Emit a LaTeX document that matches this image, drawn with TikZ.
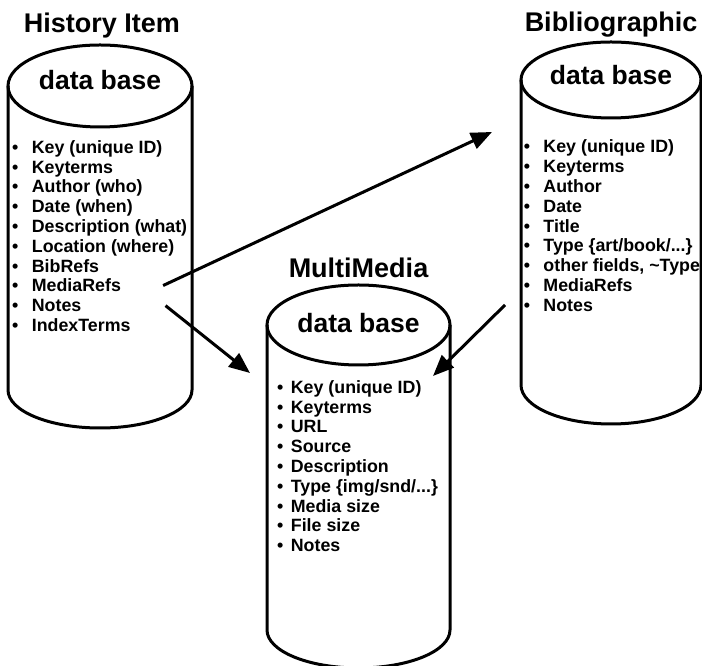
\documentclass[tikz,border=0pt]{standalone}
\usepackage{fontspec}
\setmainfont{Liberation Sans}
\usetikzlibrary{arrows.meta}

\tikzset{
  dbline/.style={line width=3pt},
  dbtitle/.style={font=\fontsize{27}{30}\selectfont\bfseries, anchor=base, inner sep=0pt},
  dbname/.style={font=\fontsize{26.5}{30}\selectfont\bfseries, anchor=base, inner sep=0pt},
  item/.style={font=\fontsize{17.8}{20}\selectfont\bfseries, anchor=base west, inner sep=0pt},
  link/.style={line width=3pt, -{Triangle[length=21pt,width=17pt]}}
}

% cx, top y, bottom y, rx, ry top, ry bottom
\newcommand\dbcyl[6]{%
  \draw[dbline] (#1,#2) ellipse ({#4} and {#5});
  \draw[dbline] ({#1-#4},#2) -- ({#1-#4},#3) arc (180:360:{#4} and {#6}) -- ({#1+#4},#2);
}
\newcommand\threedots{...}
\newcommand\bul[1]{\makebox[#1][l]{\textbullet}}

\begin{document}
\begin{tikzpicture}[x=1pt,y=1pt]
\useasboundingbox (0,0) rectangle (702,666);

% the three data bases
\dbcyl{100}{580}{276}{92}{41}{38}
\dbcyl{611}{586}{281}{90}{38}{39}
\dbcyl{358.5}{341}{36}{91.5}{40}{38}

\node[dbtitle] (histtitle) at (102,633) {History Item};
\node[dbtitle] (bibtitle) at (611,634) {Bibliographic};
\node[dbtitle] (mmtitle) at (358.5,388) {MultiMedia};

\node[dbname] (histdb) at (100,576) {data base};
\node[dbname] (bibdb) at (611,581) {data base};
\node[dbname] (mmdb) at (358.5,333) {data base};

% field lists
\foreach \t [count=\i] in {Key (unique ID), Keyterms, Author (who), Date (when),
    Description (what), Location (where), BibRefs, MediaRefs, Notes, IndexTerms}
  \node[item] (h\i) at (11.9,{532.5-19.8*\i}) {\bul{19.8pt}\t};

\foreach \t [count=\i] in {Key (unique ID), Keyterms, Author, Date, Title,
    {Type \{art/book/\threedots\}}, {other fields, \textasciitilde Type}, MediaRefs, Notes}
  \node[item] (b\i) at (523.6,{532.8-19.8*\i}) {\bul{19.7pt}\t};

\foreach \t [count=\i] in {Key (unique ID), Keyterms, URL, Source, Description,
    {Type \{img/snd/\threedots\}}, Media size, File size, Notes}
  \node[item] (m\i) at (277,{292.5-19.8*\i}) {\bul{13.7pt}\t};

% links
\coordinate (bibin) at (492,534);
\coordinate (bibout) at (505,361);
\coordinate (mmleft) at (250,293);
\coordinate (mmright) at (433,290);

\draw[link] ([xshift=42pt]h8.east) -- (bibin);
\draw[link] ([xshift=84pt]h9.east) -- (mmleft);
\draw[link] (bibout) -- (mmright);
\end{tikzpicture}
\end{document}
